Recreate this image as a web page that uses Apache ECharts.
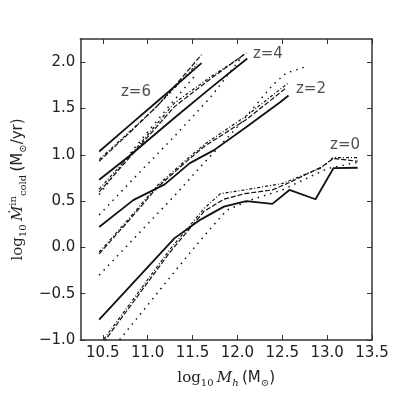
<!DOCTYPE html>
<html>
<head>
<meta charset="utf-8">
<script src="https://cdn.jsdelivr.net/npm/echarts@6/dist/echarts.min.js"></script>
<style>
html, body { margin: 0; padding: 0; background: #fff; }
#main { width: 395px; height: 395px; }
</style>
</head>
<body>
<div id="main"></div>
<script>
// ticks
const xTicks = [10.5, 11.0, 11.5, 12.0, 12.5, 13.0, 13.5];
const yTicks = [-1.0, -0.5, 0.0, 0.5, 1.0, 1.5, 2.0];

// z=6
const z6SolidX = [10.46, 10.8, 11.1, 11.4, 11.6];
const z6SolidY = [1.035, 1.32, 1.57, 1.82, 1.99];
const z6DashX = [10.46, 10.8, 11.1, 11.3, 11.6];
const z6DashY = [0.93, 1.24, 1.52, 1.74, 2.08];
const z6DotX = [10.46, 10.8, 11.1, 11.3, 11.55];
const z6DotY = [0.95, 1.25, 1.52, 1.72, 1.98];
const z6SparseX = [10.46, 10.86, 11.2, 11.55];
const z6SparseY = [0.57, 1.08, 1.48, 1.88];

// z=4
const z4SolidX = [10.46, 10.8, 11.3, 11.7, 12.11];
const z4SolidY = [0.73, 0.99, 1.4, 1.72, 2.04];
const z4DashX = [10.46, 10.9, 11.3, 11.7, 12.1];
const z4DashY = [0.6, 1.08, 1.52, 1.82, 2.1];
const z4DotX = [10.46, 10.9, 11.3, 11.7, 12.08];
const z4DotY = [0.63, 1.1, 1.56, 1.84, 2.08];
const z4SparseX = [10.46, 10.9, 11.3, 11.7, 12.1];
const z4SparseY = [0.35, 0.8, 1.2, 1.62, 2.12];

// z=2
const z2SolidX = [10.46, 10.84, 11.19, 11.47, 11.74, 12.1, 12.48, 12.57];
const z2SolidY = [0.22, 0.51, 0.68, 0.91, 1.05, 1.3, 1.57, 1.64];
const z2DashX = [10.46, 10.8, 11.1, 11.4, 11.63, 12.1, 12.54];
const z2DashY = [-0.07, 0.3, 0.64, 0.9, 1.09, 1.38, 1.72];
const z2DotX = [10.46, 10.8, 11.1, 11.4, 11.63, 12.1, 12.56];
const z2DotY = [-0.05, 0.32, 0.66, 0.92, 1.11, 1.42, 1.77];
const z2SparseX = [10.46, 10.9, 11.34, 11.56, 12.0, 12.39, 12.54, 12.79];
const z2SparseY = [-0.3, 0.15, 0.6, 0.84, 1.3, 1.75, 1.88, 1.96];

// z=0
const z0SolidX = [10.46, 11.3, 11.59, 11.85, 12.1, 12.39, 12.58, 12.87, 13.07, 13.34];
const z0SolidY = [-0.78, 0.1, 0.3, 0.44, 0.5, 0.47, 0.62, 0.52, 0.855, 0.86];
const z0DashX = [10.46, 11.25, 11.63, 11.85, 12.08, 12.39, 12.58, 12.94, 13.07, 13.34];
const z0DashY = [-1.09, -0.05, 0.39, 0.52, 0.58, 0.62, 0.7, 0.87, 0.96, 0.93];
const z0DotX = [10.46, 11.25, 11.63, 11.81, 12.08, 12.5, 12.58, 12.94, 13.07, 13.34];
const z0DotY = [-1.06, -0.02, 0.42, 0.58, 0.62, 0.69, 0.72, 0.86, 0.97, 0.97];
const z0SparseX = [10.46, 11.47, 11.67, 11.88, 12.14, 12.5, 13.0, 13.34];
const z0SparseY = [-1.27, -0.06, 0.17, 0.4, 0.51, 0.62, 0.85, 0.92];

// labels
const zLabelText = ['z=6', 'z=4', 'z=2', 'z=0'];
const zLabelX = [10.87, 12.34, 12.82, 13.2];
const zLabelY = [1.674, 2.087, 1.71, 1.107];

function pairs(xs, ys) { return xs.map((x, i) => [x, ys[i]]); }

const styles = {
  solid: { type: 'solid', width: 1.8 },
  dash: { type: [5, 2], width: 1.2 },
  dot: { type: [3, 2, 1, 2], width: 1.2 },
  sparse: { type: [1.5, 5], width: 1.5 }
};

const groups = [
  [z6SolidX, z6SolidY, z6DashX, z6DashY, z6DotX, z6DotY, z6SparseX, z6SparseY],
  [z4SolidX, z4SolidY, z4DashX, z4DashY, z4DotX, z4DotY, z4SparseX, z4SparseY],
  [z2SolidX, z2SolidY, z2DashX, z2DashY, z2DotX, z2DotY, z2SparseX, z2SparseY],
  [z0SolidX, z0SolidY, z0DashX, z0DashY, z0DotX, z0DotY, z0SparseX, z0SparseY]
];

let series = [];
groups.forEach(g => {
  ['solid', 'dash', 'dot', 'sparse'].forEach((k, j) => {
    series.push({
      type: 'line',
      data: pairs(g[j * 2], g[j * 2 + 1]),
      showSymbol: false,
      clip: true,
      silent: true,
      lineStyle: { color: '#111', type: styles[k].type, width: styles[k].width, cap: 'butt' }
    });
  });
});

series.push({
  type: 'scatter',
  symbolSize: 0,
  silent: true,
  data: zLabelText.map((t, i) => ({ name: t, value: [zLabelX[i], zLabelY[i]] })),
  label: {
    show: true, position: 'inside', formatter: p => p.name,
    color: '#222', fontSize: 15, fontFamily: 'DejaVu Sans'
  }
});

const fmt = v => (v < 0 ? '\u2212' : '') + Math.abs(v).toFixed(1);
const lineCol = '#333';

const rich = {
  s: { fontFamily: 'DejaVu Serif', fontSize: 15, color: '#222', verticalAlign: 'middle', lineHeight: 20 },
  i: { fontFamily: 'DejaVu Serif', fontStyle: 'italic', fontSize: 15, color: '#222', verticalAlign: 'middle', lineHeight: 20 },
  n: { fontFamily: 'DejaVu Sans', fontSize: 15, color: '#222', verticalAlign: 'middle', lineHeight: 20 },
  sb: { fontFamily: 'DejaVu Serif', fontSize: 10, color: '#222', verticalAlign: 'bottom', lineHeight: 10 },
  sbi: { fontFamily: 'DejaVu Serif', fontStyle: 'italic', fontSize: 10, color: '#222', verticalAlign: 'bottom', lineHeight: 10 },
  sp: { fontFamily: 'DejaVu Serif', fontSize: 10, color: '#222', verticalAlign: 'top', lineHeight: 10 }
};

const myChart = echarts.init(document.getElementById('main'));
const option = {
  animation: false,
  backgroundColor: '#fff',
  grid: { left: 75, right: 23, top: 39, bottom: 55 },
  xAxis: [{
    type: 'value', min: 10.25, max: 13.5, position: 'bottom',
    name: '{s|log}{sb|10} {i|M}{sbi|h} {n|(M}{sb|\u2299}{n|)}',
    nameLocation: 'middle', nameGap: 28,
    nameTextStyle: { rich: rich },
    axisLine: { show: true, onZero: false, lineStyle: { color: lineCol, width: 1.5 } },
    axisTick: { show: true, inside: true, length: 5, customValues: xTicks, lineStyle: { color: lineCol } },
    axisLabel: { customValues: xTicks, formatter: fmt, color: '#222', fontSize: 15, fontFamily: 'DejaVu Sans', margin: 6 },
    splitLine: { show: false }
  }, {
    type: 'value', min: 10.25, max: 13.5, position: 'top',
    axisLine: { show: true, onZero: false, lineStyle: { color: lineCol, width: 1.5 } },
    axisTick: { show: true, inside: true, length: 5, customValues: xTicks, lineStyle: { color: lineCol } },
    axisLabel: { show: false },
    splitLine: { show: false }
  }],
  yAxis: [{
    type: 'value', min: -1.0, max: 2.25, position: 'left',
    name: '{s|log}{sb|10} {i|\u1E40}{sp|in}{sb|cold} {n|(M}{sb|\u2299}{n|/yr)}',
    nameLocation: 'middle', nameGap: 42, nameRotate: 90,
    nameTextStyle: { rich: rich },
    axisLine: { show: true, onZero: false, lineStyle: { color: lineCol, width: 1.5 } },
    axisTick: { show: true, inside: true, length: 5, customValues: yTicks, lineStyle: { color: lineCol } },
    axisLabel: { customValues: yTicks, formatter: fmt, color: '#222', fontSize: 15, fontFamily: 'DejaVu Sans', margin: 5 },
    splitLine: { show: false }
  }, {
    type: 'value', min: -1.0, max: 2.25, position: 'right',
    axisLine: { show: true, onZero: false, lineStyle: { color: lineCol, width: 1.5 } },
    axisTick: { show: true, inside: true, length: 5, customValues: yTicks, lineStyle: { color: lineCol } },
    axisLabel: { show: false },
    splitLine: { show: false }
  }],
  series: series
};
myChart.setOption(option);
</script>
</body>
</html>
